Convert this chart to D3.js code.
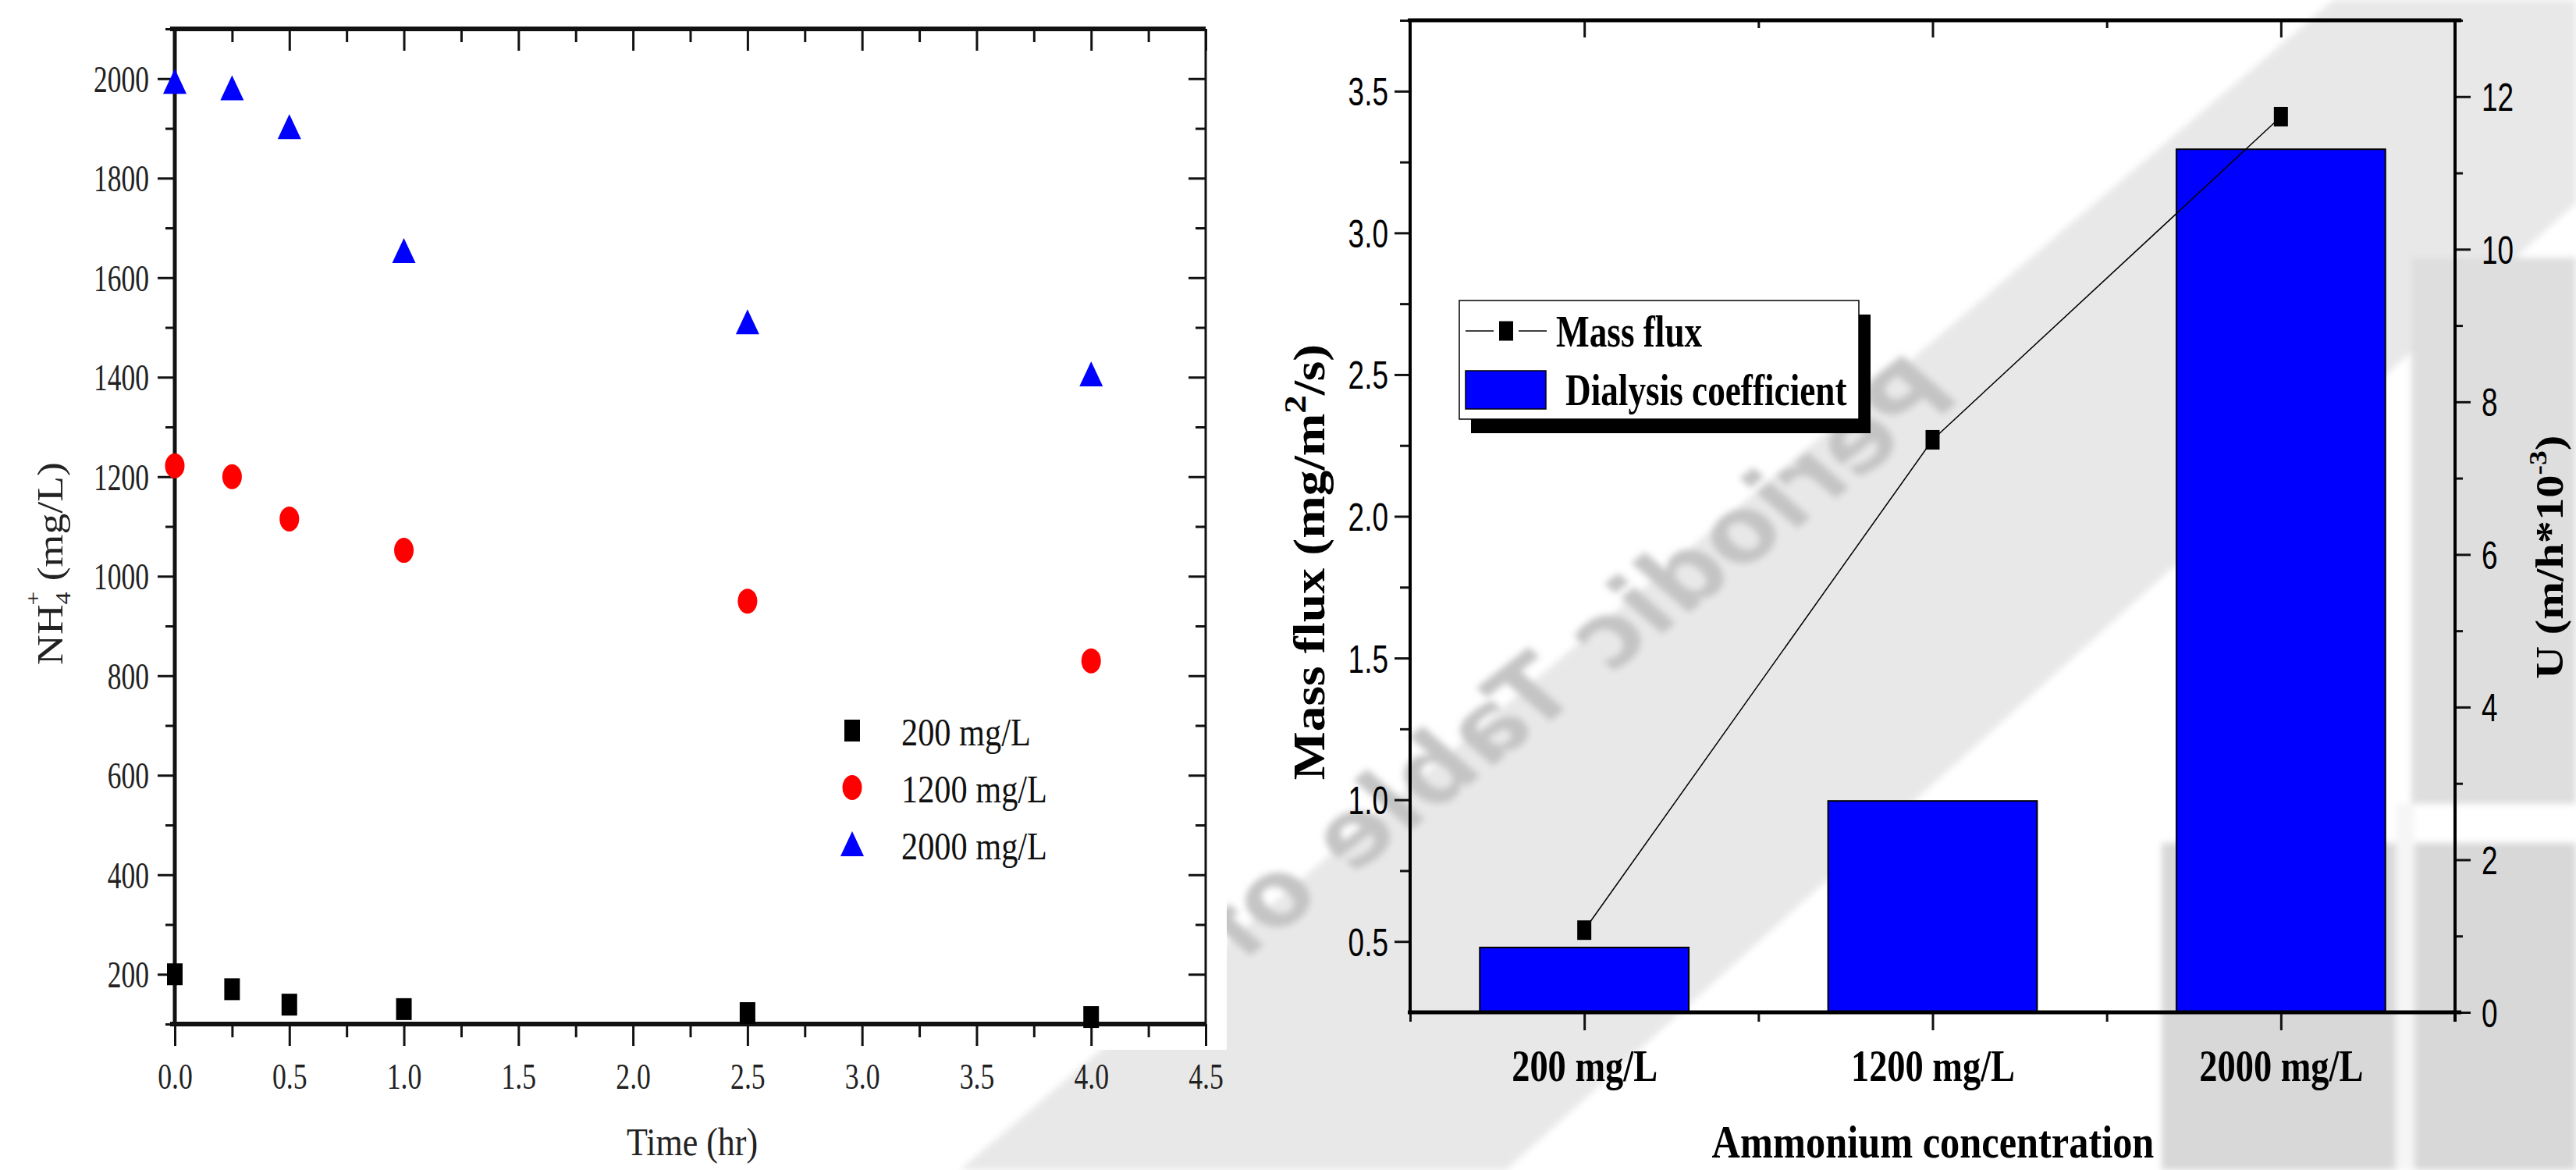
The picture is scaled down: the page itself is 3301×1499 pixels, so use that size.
<!DOCTYPE html>
<html>
<head>
<meta charset="utf-8">
<script src="https://cdn.jsdelivr.net/npm/d3@7"></script>
<style>
  html, body { margin: 0; padding: 0; background: #fff; overflow: hidden; }
  svg { display: block; }
</style>
</head>
<body>
<svg id="chart"></svg>
<script>
// ---- left panel: NH4+ vs time ----
const timeHr = [0, 0.25, 0.5, 1.0, 2.5, 4.0];
const nh4_200 = [200, 170, 139, 130, 122, 114];
const nh4_1200 = [1222, 1200, 1115, 1052, 950, 830];
const nh4_2000 = [1993, 1980, 1902, 1653, 1510, 1405];
const seriesNames = ["200 mg/L", "1200 mg/L", "2000 mg/L"];
const timeTicks = [0, 0.5, 1, 1.5, 2, 2.5, 3, 3.5, 4, 4.5];
const nh4Ticks = [200, 400, 600, 800, 1000, 1200, 1400, 1600, 1800, 2000];

// ---- right panel: mass flux / dialysis coefficient ----
const categories = ["200 mg/L", "1200 mg/L", "2000 mg/L"];
const massFlux = [0.54, 2.27, 3.41];
const dialysisU = [0.85, 2.77, 11.31];
const fluxTicks = [0.5, 1.0, 1.5, 2.0, 2.5, 3.0, 3.5];
const uTicks = [0, 2, 4, 6, 8, 10, 12];

const W = 3301, H = 1499;
const svg = d3.select("#chart").attr("width", W).attr("height", H);

const SERIF = "'Liberation Serif', 'Times New Roman', serif";
const SANS = "'Liberation Sans', Arial, sans-serif";

// squeeze text horizontally (source image is stretched vertically)
function squeeze(sel, sx) {
    sel.attr("transform", `scale(${sx},1)`);
}

// ---------- background watermark (faded photo behind the right figure) ----------
svg.append("defs").append("filter").attr("id", "soft")
    .append("feGaussianBlur").attr("stdDeviation", 4);
const bg = svg.append("g").attr("class", "watermark").attr("filter", "url(#soft)");
bg.append("path")
    .attr("d", "M2990,0 L3301,0 L3301,260 L1930,1499 L1230,1499 Z")
    .attr("fill", "#e8e8e8");
bg.append("rect").attr("x", 3090).attr("y", 330).attr("width", 211).attr("height", 700).attr("fill", "#dedede");
bg.append("rect").attr("x", 2770).attr("y", 1080).attr("width", 531).attr("height", 419).attr("fill", "#d8d8d8");
bg.append("rect").attr("x", 3070).attr("y", 1030).attr("width", 24).attr("height", 469).attr("fill", "#f6f6f6");
bg.append("text")
    .attr("transform", "translate(2510,515) rotate(-38) scale(-1,1)")
    .attr("font-family", "'DejaVu Sans', sans-serif")
    .attr("font-weight", "bold")
    .attr("font-style", "italic")
    .attr("font-size", 126)
    .attr("fill", "#c4c4c4")
    .text("Periodic Table of");
// left figure sits on plain white
svg.append("rect").attr("x", 0).attr("y", 0).attr("width", 1572).attr("height", 1345).attr("fill", "#fff");

// =====================================================================
// LEFT CHART
// =====================================================================
const L = { left: 224, right: 1545, top: 37, bottom: 1312 };
const xL = d3.scaleLinear().domain([0, 4.5]).range([L.left, L.right]);
const yL = d3.scaleLinear().domain([100, 2100]).range([L.bottom, L.top]);
const gL = svg.append("g").attr("class", "left-chart");

const tickStyle = g => g.selectAll("line").attr("stroke", "#111").attr("stroke-width", 3);

// bottom axis
const xMinorL = d3.range(0.25, 4.5, 0.5);
gL.append("g").attr("transform", `translate(0,${L.bottom})`)
    .call(d3.axisBottom(xL).tickValues(timeTicks).tickSize(28).tickFormat(d => d.toFixed(1)))
    .call(g => g.select(".domain").remove())
    .call(tickStyle)
    .call(g => {
        const t = g.selectAll("text")
            .attr("font-family", SERIF).attr("font-size", 47).attr("fill", "#222")
            .attr("y", 50).attr("dy", "0.71em");
        squeeze(t, 0.76);
    });
gL.append("g").attr("transform", `translate(0,${L.bottom})`)
    .call(d3.axisBottom(xL).tickValues(xMinorL).tickSize(17).tickFormat(""))
    .call(g => g.select(".domain").remove()).call(tickStyle);
// top axis (inward ticks)
gL.append("g").attr("transform", `translate(0,${L.top})`)
    .call(d3.axisBottom(xL).tickValues(timeTicks).tickSize(28).tickFormat(""))
    .call(g => g.select(".domain").remove()).call(tickStyle);
gL.append("g").attr("transform", `translate(0,${L.top})`)
    .call(d3.axisBottom(xL).tickValues(xMinorL).tickSize(17).tickFormat(""))
    .call(g => g.select(".domain").remove()).call(tickStyle);

// left axis
const yMinorL = d3.range(100, 2101, 200);
gL.append("g").attr("transform", `translate(${L.left},0)`)
    .call(d3.axisLeft(yL).tickValues(nh4Ticks).tickSize(22).tickFormat(d3.format("d")))
    .call(g => g.select(".domain").remove())
    .call(tickStyle)
    .call(g => {
        const t = g.selectAll("text")
            .attr("font-family", SERIF).attr("font-size", 48).attr("fill", "#222")
            .attr("x", -33 / 0.74).attr("dy", "0.34em");
        squeeze(t, 0.74);
    });
gL.append("g").attr("transform", `translate(${L.left},0)`)
    .call(d3.axisLeft(yL).tickValues(yMinorL).tickSize(12).tickFormat(""))
    .call(g => g.select(".domain").remove()).call(tickStyle);
// right axis (inward ticks)
gL.append("g").attr("transform", `translate(${L.right},0)`)
    .call(d3.axisLeft(yL).tickValues(nh4Ticks).tickSize(22).tickFormat(""))
    .call(g => g.select(".domain").remove()).call(tickStyle);
gL.append("g").attr("transform", `translate(${L.right},0)`)
    .call(d3.axisLeft(yL).tickValues(yMinorL).tickSize(13).tickFormat(""))
    .call(g => g.select(".domain").remove()).call(tickStyle);

// frame
gL.append("line").attr("x1", L.left - 6).attr("x2", L.right).attr("y1", L.top).attr("y2", L.top)
    .attr("stroke", "#111").attr("stroke-width", 6);
gL.append("line").attr("x1", L.left - 6).attr("x2", L.right).attr("y1", L.bottom).attr("y2", L.bottom)
    .attr("stroke", "#111").attr("stroke-width", 6);
gL.append("line").attr("x1", L.left).attr("x2", L.left).attr("y1", L.top).attr("y2", L.bottom + 3)
    .attr("stroke", "#111").attr("stroke-width", 5);
gL.append("line").attr("x1", L.right).attr("x2", L.right).attr("y1", L.top).attr("y2", L.bottom + 3)
    .attr("stroke", "#111").attr("stroke-width", 3);

// markers
const sqPath = "M-10,-14H10V14H-10Z";
const triPath = "M0,-17L15,15H-15Z";
const pts = (vals) => timeHr.map((t, i) => ({ t, v: vals[i] }));

gL.selectAll("path.sq").data(pts(nh4_200)).join("path").attr("class", "sq")
    .attr("d", sqPath).attr("fill", "#000")
    .attr("transform", d => `translate(${xL(d.t)},${yL(d.v)})`);
gL.selectAll("ellipse.ci").data(pts(nh4_1200)).join("ellipse").attr("class", "ci")
    .attr("cx", d => xL(d.t)).attr("cy", d => yL(d.v))
    .attr("rx", 12.5).attr("ry", 16).attr("fill", "#ff0000");
gL.selectAll("path.tri").data(pts(nh4_2000)).join("path").attr("class", "tri")
    .attr("d", triPath).attr("fill", "#0000ff")
    .attr("transform", d => `translate(${xL(d.t)},${yL(d.v)})`);

// legend
const legL = gL.append("g").attr("class", "legend-left");
const legShapes = [
    s => s.append("path").attr("d", sqPath).attr("fill", "#000"),
    s => s.append("ellipse").attr("rx", 12.5).attr("ry", 16).attr("fill", "#ff0000"),
    s => s.append("path").attr("d", triPath).attr("fill", "#0000ff")
];
seriesNames.forEach((name, i) => {
    const row = legL.append("g").attr("transform", `translate(1092,${936 + i * 73})`);
    legShapes[i](row);
    const t = row.append("text").attr("x", 63 / 0.83).attr("y", 19)
        .attr("font-family", SERIF).attr("font-size", 51).attr("fill", "#111").text(name);
    squeeze(t, 0.83);
});

// axis titles
gL.append("g").attr("transform", "translate(887,1480)")
    .append("text").attr("text-anchor", "middle")
    .attr("font-family", SERIF).attr("font-size", 50).attr("fill", "#222")
    .attr("transform", "scale(0.88,1)").text("Time (hr)");

const yTitleL = gL.append("text")
    .attr("transform", "translate(80,722) rotate(-90) scale(1.12,0.95)")
    .attr("text-anchor", "middle")
    .attr("font-family", SERIF).attr("font-size", 48).attr("fill", "#222");
yTitleL.append("tspan").text("NH");
yTitleL.append("tspan").attr("font-size", 28).attr("dy", 10).text("4");
yTitleL.append("tspan").attr("font-size", 28).attr("dx", -15).attr("dy", -40).text("+");
yTitleL.append("tspan").attr("dy", 30).text(" (mg/L)");

// =====================================================================
// RIGHT CHART
// =====================================================================
const R = { left: 1807, right: 3146, top: 26, bottom: 1297 };
const xR = d3.scaleLinear().domain([0.5, 3.5]).range([R.left, R.right]);
const yFlux = d3.scaleLinear().domain([0.25, 3.75]).range([R.bottom, R.top]);
const yU = d3.scaleLinear().domain([0, 13]).range([R.bottom, R.top]);
const gR = svg.append("g").attr("class", "right-chart");
const catIdx = categories.map((c, i) => i + 1);
const barW = 0.6;

// bars (dialysis coefficient, right axis)
gR.selectAll("rect.bar").data(dialysisU).join("rect").attr("class", "bar")
    .attr("x", (d, i) => xR(catIdx[i] - barW / 2))
    .attr("width", xR(barW) - xR(0))
    .attr("y", d => yU(d))
    .attr("height", d => yU(0) - yU(d))
    .attr("fill", "#0000ff").attr("stroke", "#000").attr("stroke-width", 2);

// axes
const xMinorR = [0.5, 1.5, 2.5, 3.5];
gR.append("g").attr("transform", `translate(0,${R.bottom})`)
    .call(d3.axisBottom(xR).tickValues(catIdx).tickSize(23).tickFormat(d => categories[d - 1]))
    .call(g => g.select(".domain").remove())
    .call(tickStyle)
    .call(g => {
        const t = g.selectAll("text")
            .attr("font-family", SERIF).attr("font-weight", "bold").attr("font-size", 58)
            .attr("fill", "#000").attr("y", 88).attr("dy", 0);
        squeeze(t, 0.8);
    });
gR.append("g").attr("transform", `translate(0,${R.bottom})`)
    .call(d3.axisBottom(xR).tickValues(xMinorR).tickSize(12).tickFormat(""))
    .call(g => g.select(".domain").remove()).call(tickStyle);
gR.append("g").attr("transform", `translate(0,${R.top})`)
    .call(d3.axisBottom(xR).tickValues(catIdx).tickSize(22).tickFormat(""))
    .call(g => g.select(".domain").remove()).call(tickStyle);
gR.append("g").attr("transform", `translate(0,${R.top})`)
    .call(d3.axisBottom(xR).tickValues([1.5, 2.5]).tickSize(10).tickFormat(""))
    .call(g => g.select(".domain").remove()).call(tickStyle);

const fluxMinor = d3.range(0.75, 3.76, 0.5);
gR.append("g").attr("transform", `translate(${R.left},0)`)
    .call(d3.axisLeft(yFlux).tickValues(fluxTicks).tickSize(20).tickFormat(d3.format(".1f")))
    .call(g => g.select(".domain").remove())
    .call(tickStyle)
    .call(g => {
        const t = g.selectAll("text")
            .attr("font-family", SANS).attr("font-size", 50).attr("fill", "#000")
            .attr("x", -28 / 0.74).attr("dy", "0.36em");
        squeeze(t, 0.74);
    });
gR.append("g").attr("transform", `translate(${R.left},0)`)
    .call(d3.axisLeft(yFlux).tickValues(fluxMinor).tickSize(13).tickFormat(""))
    .call(g => g.select(".domain").remove()).call(tickStyle);

const uMinor = d3.range(1, 13.1, 2);
gR.append("g").attr("transform", `translate(${R.right},0)`)
    .call(d3.axisRight(yU).tickValues(uTicks).tickSize(20))
    .call(g => g.select(".domain").remove())
    .call(tickStyle)
    .call(g => {
        const t = g.selectAll("text")
            .attr("font-family", SANS).attr("font-size", 50).attr("fill", "#000")
            .attr("x", 34 / 0.74).attr("dy", "0.36em");
        squeeze(t, 0.74);
    });
gR.append("g").attr("transform", `translate(${R.right},0)`)
    .call(d3.axisRight(yU).tickValues(uMinor).tickSize(10).tickFormat(""))
    .call(g => g.select(".domain").remove()).call(tickStyle);

// frame
gR.append("line").attr("x1", R.left - 3).attr("x2", R.right + 8).attr("y1", R.top).attr("y2", R.top)
    .attr("stroke", "#000").attr("stroke-width", 5);
gR.append("line").attr("x1", R.left - 3).attr("x2", R.right + 8).attr("y1", R.bottom).attr("y2", R.bottom)
    .attr("stroke", "#000").attr("stroke-width", 5);
gR.append("line").attr("x1", R.left).attr("x2", R.left).attr("y1", R.top).attr("y2", R.bottom)
    .attr("stroke", "#000").attr("stroke-width", 4);
gR.append("line").attr("x1", R.right).attr("x2", R.right).attr("y1", R.top).attr("y2", R.bottom + 12)
    .attr("stroke", "#000").attr("stroke-width", 4);

// mass flux line + markers (left axis)
const fluxPts = massFlux.map((v, i) => ({ x: catIdx[i], v }));
gR.append("path").datum(fluxPts)
    .attr("d", d3.line().x(d => xR(d.x)).y(d => yFlux(d.v)))
    .attr("fill", "none").attr("stroke", "#000").attr("stroke-width", 1.5);
const sqR = "M-9,-12.5H9V12.5H-9Z";
gR.selectAll("path.flux").data(fluxPts).join("path").attr("class", "flux")
    .attr("d", sqR).attr("fill", "#000")
    .attr("transform", d => `translate(${xR(d.x)},${yFlux(d.v)})`);

// legend with shadow
const legR = gR.append("g").attr("class", "legend-right");
legR.append("rect").attr("x", 1885).attr("y", 403).attr("width", 512).attr("height", 152).attr("fill", "#000");
legR.append("rect").attr("x", 1870).attr("y", 385).attr("width", 512).attr("height", 152)
    .attr("fill", "#fff").attr("stroke", "#000").attr("stroke-width", 1.5);
legR.append("line").attr("x1", 1878).attr("x2", 1914).attr("y1", 424).attr("y2", 424)
    .attr("stroke", "#000").attr("stroke-width", 1.5);
legR.append("line").attr("x1", 1946).attr("x2", 1982).attr("y1", 424).attr("y2", 424)
    .attr("stroke", "#000").attr("stroke-width", 1.5);
legR.append("path").attr("d", sqR).attr("fill", "#000").attr("transform", "translate(1930,424)");
legR.append("rect").attr("x", 1878).attr("y", 475).attr("width", 103).attr("height", 49)
    .attr("fill", "#0000ff").attr("stroke", "#000").attr("stroke-width", 1.5);
[["Mass flux", 1994, 444], ["Dialysis coefficient", 2006, 519]].forEach(([txt, x, y]) => {
    legR.append("g").attr("transform", `translate(${x},${y})`)
        .append("text").attr("font-family", SERIF).attr("font-weight", "bold")
        .attr("font-size", 58).attr("fill", "#000")
        .attr("transform", "scale(0.78,1)").text(txt);
});

// axis titles
gR.append("g").attr("transform", "translate(2477,1483)")
    .append("text").attr("text-anchor", "middle")
    .attr("font-family", SERIF).attr("font-weight", "bold").attr("font-size", 60)
    .attr("transform", "scale(0.84,1)").text("Ammonium concentration");

const yTitleR1 = gR.append("text")
    .attr("transform", "translate(1697,720) rotate(-90) scale(1.17,1)")
    .attr("text-anchor", "middle")
    .attr("font-family", SERIF).attr("font-weight", "bold").attr("font-size", 56).attr("fill", "#000");
yTitleR1.append("tspan").text("Mass flux (mg/m");
yTitleR1.append("tspan").attr("font-size", 40).attr("dy", -24).text("2");
yTitleR1.append("tspan").attr("dy", 24).text("/s)");

const yTitleR2 = gR.append("text")
    .attr("transform", "translate(3284,714) rotate(-90) scale(1.17,1)")
    .attr("text-anchor", "middle")
    .attr("font-family", SERIF).attr("font-weight", "bold").attr("font-size", 50).attr("fill", "#000");
yTitleR2.append("tspan").text("U (m/h*10");
yTitleR2.append("tspan").attr("font-size", 32).attr("dy", -21).text("-3");
yTitleR2.append("tspan").attr("dy", 21).text(")");
</script>
</body>
</html>
